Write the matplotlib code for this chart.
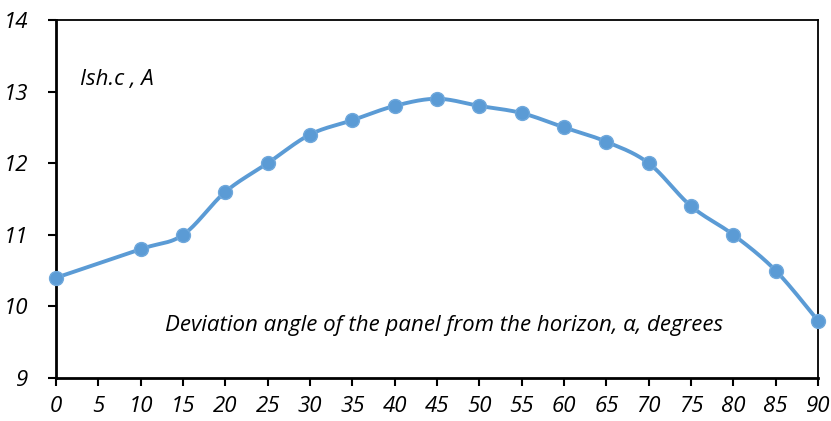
import numpy as np
import matplotlib
matplotlib.use("Agg")
import matplotlib.pyplot as plt

angles = [0, 10, 15, 20, 25, 30, 35, 40, 45, 50, 55, 60, 65, 70, 75, 80, 85, 90]
current = [10.4, 10.8, 11.0, 11.6, 12.0, 12.4, 12.6, 12.8, 12.9, 12.8, 12.7,
           12.5, 12.3, 12.0, 11.4, 11.0, 10.5, 9.8]
x_ticks = list(range(0, 91, 5))
y_ticks = [9, 10, 11, 12, 13, 14]

color = "#5B9BD5"


def smooth_curve(xs, ys, n=30):
    """Catmull-Rom style Bezier smoothing through every point."""
    xs = np.asarray(xs, float)
    ys = np.asarray(ys, float)
    px, py = [], []
    m = len(xs)
    for i in range(m - 1):
        x0, y0 = (xs[i - 1], ys[i - 1]) if i > 0 else (xs[i], ys[i])
        x1, y1 = xs[i], ys[i]
        x2, y2 = xs[i + 1], ys[i + 1]
        x3, y3 = (xs[i + 2], ys[i + 2]) if i + 2 < m else (xs[i + 1], ys[i + 1])
        c1x, c1y = x1 + (x2 - x0) / 6, y1 + (y2 - y0) / 6
        c2x, c2y = x2 - (x3 - x1) / 6, y2 - (y3 - y1) / 6
        t = np.linspace(0, 1, n)
        bx = (1 - t) ** 3 * x1 + 3 * (1 - t) ** 2 * t * c1x + 3 * (1 - t) * t ** 2 * c2x + t ** 3 * x2
        by = (1 - t) ** 3 * y1 + 3 * (1 - t) ** 2 * t * c1y + 3 * (1 - t) * t ** 2 * c2y + t ** 3 * y2
        px.extend(bx)
        py.extend(by)
    return px, py


plt.rcParams["font.family"] = ["Open Sans", "DejaVu Sans"]

fig = plt.figure(figsize=(8.31, 4.21), dpi=100)
ax = fig.add_axes([0.0674, 0.1021, 0.9170, 0.8504])

sx, sy = smooth_curve(angles, current)
ax.plot(sx, sy, color=color, lw=2.8, solid_capstyle="round", zorder=2, clip_on=False)
ax.plot(angles, current, "o", ms=10, color=color, mec="#6FA8DC", mew=1.0,
        zorder=3, clip_on=False)

ax.set_xlim(0, 90)
ax.set_ylim(9, 14)
ax.set_xticks(x_ticks)
ax.set_yticks(y_ticks)
ax.tick_params(axis="both", direction="out", length=6, width=1.5, labelsize=16,
               color="black")
ax.tick_params(axis="x", pad=7)
ax.tick_params(axis="y", pad=14)
for lab in ax.get_xticklabels() + ax.get_yticklabels():
    lab.set_fontstyle("italic")

for side in ("left", "bottom"):
    ax.spines[side].set_linewidth(2.0)
for side in ("top", "right"):
    ax.spines[side].set_linewidth(1.3)

fig.text(80 / 831, 1 - 80 / 421, "Ish.c , A", fontsize=16, style="italic",
         ha="left", va="center")
fig.text(165 / 831, 1 - 325 / 421,
         "Deviation angle of the panel from the horizon, α, degrees",
         fontsize=16, style="italic", ha="left", va="center")

fig.savefig("out.png", dpi=100)
